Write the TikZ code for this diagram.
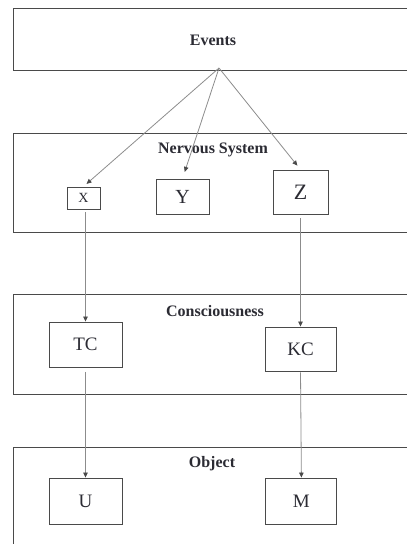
\documentclass[tikz,border=0pt]{standalone}
\usepackage{fontspec}
\setmainfont{Liberation Serif}
\usetikzlibrary{shapes,arrows.meta,positioning}
\definecolor{boxgray}{HTML}{4A4A4A}
\definecolor{linegray}{HTML}{8C8C8C}
\definecolor{inkgray}{HTML}{2B2B33}
\tikzset{layer/.style={draw=boxgray,line width=0.9pt}}
\tikzset{title/.style={font=\fontsize{16}{18}\selectfont\bfseries,text=inkgray,inner sep=0pt}}
\tikzset{basic/.style={draw=boxgray,line width=0.9pt,inner sep=0pt,text=inkgray}}
\tikzset{unit/.style={basic,minimum width=73pt,minimum height=45pt,font=\fontsize{19}{21}\selectfont}}
\tikzset{arrow/.style={draw=linegray,line width=0.8pt,-{Triangle[length=5pt,width=4.5pt,color=boxgray]}}}

\begin{document}
\begin{tikzpicture}[x=1pt,y=-1pt]
    \useasboundingbox (0,0) rectangle (407,544);

    % layers, cut off at the right edge
    \path[layer] (407,8) -| (13,70) -- (407,70);
    \path[layer] (407,133.5) -| (13,232.5) -- (407,232.5);
    \path[layer] (407,294.5) -| (13,394.5) -- (407,394.5);
    \path[layer] (407,447.5) -| (13,544);

    \node[title] (events) at (213,40) {Events};
    \node[title] (nervous) at (213,150) {Nervous System};
    \node[title] (conscious) at (215,311) {Consciousness};
    \node[title] (object) at (212,464) {Object};

    \coordinate (src) at (219,68);

    \node[basic,minimum width=33pt,minimum height=22pt,font=\fontsize{14}{16}\selectfont] (x) at (83.5,198) {X};
    \node[basic,minimum width=53pt,minimum height=35pt,font=\fontsize{20}{22}\selectfont] (y) at (182.5,196.5) {Y};
    \node[basic,minimum width=55pt,minimum height=44pt,font=\fontsize{22}{24}\selectfont] (z) at (300.5,192) {Z};

    \node[unit] (tc) at (85.5,344.5) {TC};
    \node[unit,minimum width=71pt,minimum height=44pt] (kc) at (300.5,349) {KC};

    \node[unit,minimum height=46pt] (u) at (85.5,501) {U};
    \node[unit,minimum width=71pt,minimum height=46pt,right=143pt of u] (m) {M};

        \path[arrow,shorten >=4pt] (src) -- (x.north);
        \path[arrow,shorten >=7pt] (src) -- (y.north);
        \path[arrow,shorten >=5pt] (src) -- (z.north);
        \path[arrow,shorten <=3pt] (tc.north |- x.south) -- (tc.north);
        \path[arrow,shorten <=4pt] (z.south) -- (kc.north);
        \path[arrow,shorten <=4.5pt] (tc.south) -- (u.north);
        \path[arrow,shorten <=1pt] (kc.south) -- (m.north);
\end{tikzpicture}
\end{document}
